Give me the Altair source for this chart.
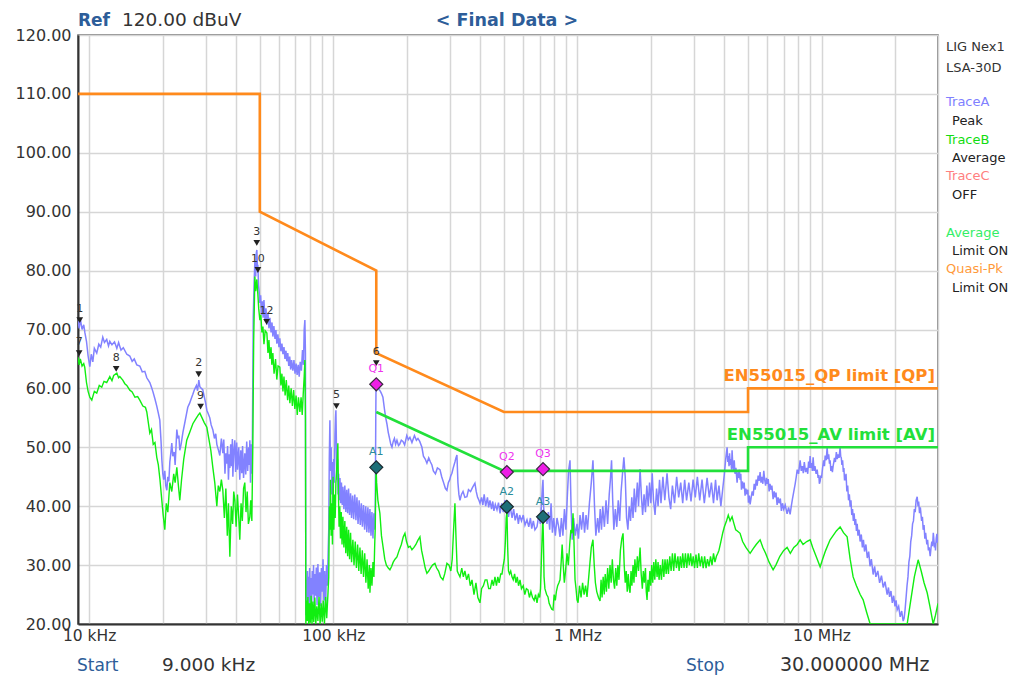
import altair as alt
import pandas as pd

# ---------------- data (frequency in kHz, level in dBuV) ----------------
peak_trace = [
[9.0,71.5],[9.1,70.2],[9.2,71.8],[9.35,70.0],[9.5,70.8],[9.6,69.5],[9.75,68.0],[9.9,65.5],[10.06,63.7],[10.2,65.8],
[10.35,64.5],[10.5,66.8],[10.74,66.0],[10.95,67.5],[11.15,67.0],[11.37,68.7],[11.55,67.8],[11.8,68.3],[12.0,67.2],[12.15,68.0],
[12.4,67.4],[12.7,67.9],[12.98,66.8],[13.2,67.8],[13.5,66.5],[13.8,66.9],[14.26,65.8],[14.67,65.5],[15.0,64.6],[15.3,65.0],
[15.67,64.0],[16.12,63.8],[16.5,62.8],[16.9,62.9],[17.22,61.8],[17.72,61.0],[18.0,60.2],[18.23,59.5],[18.6,58.2],[18.92,57.0],
[19.2,55.8],[19.47,54.6],[19.7,51.0],[19.84,48.0],[20.03,45.5],[20.2,44.5],[20.41,46.0],[20.6,43.5],[20.8,42.7],[21.0,45.0],
[21.2,44.2],[21.4,47.5],[21.6,49.0],[21.8,50.7],[22.0,48.5],[22.3,49.2],[22.5,47.0],[22.86,53.0],[23.1,51.5],[23.3,52.0],
[23.51,49.5],[23.8,50.5],[24.2,52.5],[24.6,54.0],[25.0,55.5],[25.35,56.8],[25.8,57.5],[26.2,58.3],[26.59,59.0],[27.0,59.8],
[27.5,60.5],[27.8,59.6],[28.13,61.4],[28.4,60.3],[28.8,60.0],[29.2,59.8],[29.5,58.9],[30.0,57.5],[30.34,56.3],[30.8,55.6],
[31.2,55.0],[31.6,53.8],[32.1,53.0],[32.6,51.5],[33.0,52.3],[33.34,50.5],[33.8,49.6],[34.3,48.6],[34.8,51.5],[35.28,49.0],
[35.6,51.3],[36.0,45.5],[36.3,49.0],[36.64,47.2],[36.9,50.2],[37.2,44.5],[37.5,48.8],[37.7,46.5],[38.0,50.5],[38.3,46.8],
[38.6,51.4],[38.78,45.0],[39.1,49.2],[39.5,51.2],[39.8,45.8],[40.2,50.8],[40.5,46.2],[41.0,50.0],[41.4,44.5],[41.8,49.5],
[42.2,45.6],[42.5,50.2],[42.9,44.8],[43.4,49.0],[43.8,45.4],[44.2,51.0],[44.6,46.0],[45.0,50.0],[45.3,47.0],[45.52,51.2],
[45.8,44.0],[46.1,50.5],[46.39,45.5],[46.6,50.0],[47.0,72.0],[47.4,78.0],[47.72,81.5],[48.1,79.0],[48.4,83.0],[48.63,83.5],
[48.9,80.5],[49.09,81.0],[49.4,77.5],[49.7,76.5],[50.03,74.5],[50.4,75.8],[50.8,72.5],[51.2,74.8],[51.6,72.0],[52.0,75.0],
[52.5,71.5],[53.0,73.6],[53.45,70.8],[54.0,72.8],[54.5,70.2],[55.0,72.0],[55.6,69.5],[56.1,71.2],[56.55,68.8],[57.1,70.6],
[57.7,68.4],[58.2,69.9],[58.72,67.6],[59.3,69.2],[59.9,67.0],[60.4,68.5],[61.0,66.3],[61.6,67.6],[62.2,65.8],[62.8,67.0],
[63.4,65.0],[64.0,66.4],[64.5,64.6],[65.1,66.0],[65.7,63.8],[66.3,65.4],[66.9,63.2],[67.5,64.8],[68.3,63.0],[69.0,64.8],
[69.7,62.5],[70.4,64.2],[71.1,62.3],[71.8,64.0],[72.5,62.0],[73.2,64.5],[74.0,63.0],[74.8,66.5],[75.5,64.0],[76.0,70.0],
[76.5,71.6],[76.9,66.0],[77.2,21.5],[77.6,27.5],[78.0,23.0],[78.4,29.0],[78.8,24.5],[79.2,28.0],[79.6,22.5],[80.0,29.5],
[80.5,24.0],[81.0,27.8],[81.5,22.8],[82.0,29.0],[82.5,25.0],[83.0,30.0],[83.5,23.5],[84.0,28.5],[84.6,24.8],[85.2,29.6],
[85.8,23.2],[86.5,30.2],[87.2,24.6],[88.0,28.8],[88.7,23.0],[89.4,29.5],[90.1,25.5],[90.8,31.0],[91.5,24.0],[92.2,29.0],
[93.0,22.5],[93.8,30.0],[94.5,26.5],[95.2,31.5],[95.8,36.0],[96.3,48.0],[96.85,54.6],[97.4,46.0],[98.0,50.0],[98.6,42.0],
[99.2,47.5],[99.8,40.5],[100.4,48.0],[101.0,44.0],[101.6,52.0],[102.1,55.0],[102.5,56.3],[103.0,50.5],[103.5,44.5],[104.0,48.0],
[104.6,42.0],[105.2,45.5],[105.8,41.0],[106.5,44.8],[107.2,40.5],[108.0,44.0],[108.8,40.2],[109.5,43.3],[110.5,39.5],[111.5,43.5],
[112.5,39.0],[113.5,42.8],[114.5,38.8],[115.5,43.0],[116.6,38.5],[117.7,42.2],[118.8,38.0],[120.0,41.8],[121.2,37.8],[122.5,42.0],
[123.8,37.6],[125.0,41.5],[126.3,37.0],[127.6,41.0],[129.0,36.8],[130.3,40.5],[131.6,36.5],[133.0,40.2],[134.4,36.0],[135.8,40.0],
[137.2,35.6],[138.6,39.8],[140.0,35.5],[141.3,39.5],[142.7,35.0],[144.0,39.0],[145.4,34.5],[146.7,38.8],[147.8,36.0],[148.6,40.0],
[149.3,55.0],[149.7,61.4],[150.3,60.5],[152.3,61.0],[154.0,59.8],[156.0,59.5],[158.0,59.0],[159.7,58.5],[162.0,56.5],[164.0,55.0],
[165.8,54.0],[168.0,52.5],[170.0,51.5],[172.0,50.5],[173.9,50.0],[176.0,51.0],[178.0,51.5],[180.0,50.5],[182.3,51.2],[185.0,50.3],
[187.0,50.5],[190.0,51.2],[192.9,51.0],[196.0,50.4],[200.0,52.0],[203.0,51.3],[206.0,51.7],[210.0,50.8],[215.0,52.0],[219.0,51.2],
[222.2,51.5],[226.0,51.0],[230.7,50.0],[234.0,48.5],[238.0,48.0],[241.8,47.3],[246.0,48.2],[250.0,47.5],[253.5,47.0],[257.0,46.0],
[262.0,45.5],[267.0,46.5],[273.5,46.2],[278.0,45.0],[283.0,44.0],[288.0,43.0],[292.1,42.7],[296.0,44.0],[300.0,44.5],[303.0,45.2],
[306.2,45.6],[310.0,46.5],[315.0,47.5],[318.0,48.2],[321.0,48.7],[324.0,44.0],[327.0,42.0],[330.3,41.0],[335.0,42.0],[340.0,42.5],
[346.0,41.5],[352.7,41.6],[358.0,42.8],[365.0,42.5],[372.0,43.2],[380.4,43.9],[385.0,42.5],[390.0,41.5],[395.0,41.0],[398.9,40.5],
[405.0,41.5],[410.0,40.2],[415.0,42.0],[421.0,40.0],[428.0,41.5],[433.0,39.8],[438.3,41.0],[445.0,39.5],[450.0,40.8],[455.0,39.2],
[461.0,40.3],[468.3,39.4],[475.0,40.6],[482.0,38.8],[490.0,40.5],[497.0,39.0],[505.0,41.0],[514.6,39.9],[522.0,38.2],[530.0,40.0],
[540.0,38.0],[548.0,39.5],[556.0,37.6],[565.6,38.8],[573.0,37.0],[580.0,38.5],[590.0,37.5],[600.0,38.5],[610.0,36.8],[621.5,37.7],
[632.0,36.5],[642.0,38.0],[650.0,36.2],[660.0,37.5],[670.0,36.0],[683.1,36.5],[695.0,38.5],[705.0,37.0],[712.0,40.0],[718.0,43.0],
[722.8,44.5],[727.0,40.0],[735.0,37.5],[743.0,38.5],[750.6,37.0],[760.0,39.0],[770.0,36.0],[780.0,40.5],[790.0,35.5],[800.0,38.0],
[812.0,35.0],[825.0,38.0],[838.0,36.5],[848.6,34.8],[860.0,38.0],[872.0,35.0],[885.0,39.5],[897.0,36.0],[910.0,42.0],[920.0,46.0],
[932.5,47.8],[942.0,40.0],[952.0,34.3],[965.0,38.0],[980.0,35.0],[996.3,37.0],[1010,34.5],[1025,38.5],[1040,36.0],[1055,39.0],
[1070,35.5],[1085,38.5],[1100,36.0],[1120,40.5],[1140,44.0],[1158,47.8],[1175,40.0],[1190,35.0],[1210,38.0],[1225,35.5],
[1240,39.5],[1255,36.0],[1270,40.0],[1290,36.5],[1310,41.0],[1330,37.0],[1350,42.0],[1365,44.5],[1380,47.8],[1395,41.0],
[1410,36.0],[1430,39.5],[1450,36.5],[1470,41.0],[1490,37.5],[1510,42.5],[1530,45.5],[1550,48.3],[1570,45.0],[1590,38.0],
[1610,36.0],[1630,40.0],[1650,37.5],[1670,41.5],[1690,38.0],[1710,43.0],[1730,39.0],[1760,44.0],[1780,40.0],[1806,46.3],
[1830,41.5],[1850,38.5],[1875,42.0],[1900,39.0],[1925,43.5],[1950,40.0],[1975,44.0],[2000,40.5],[2025,45.6],[2050,41.0],
[2080,38.5],[2110,43.0],[2140,40.0],[2170,44.5],[2200,40.5],[2240,45.0],[2280,41.0],[2329,45.6],[2370,41.5],[2410,39.5],
[2450,43.5],[2500,40.5],[2550,45.0],[2600,41.5],[2650,44.0],[2700,40.5],[2750,44.5],[2800,41.0],[2860,44.0],[2920,40.8],
[2978,44.5],[3040,41.5],[3100,45.0],[3170,41.0],[3240,44.5],[3310,40.5],[3398,44.8],[3470,41.5],[3540,44.0],[3610,40.5],
[3680,44.5],[3735,41.0],[3800,43.5],[3870,40.0],[3940,43.0],[4000,45.5],[4050,48.0],[4104,50.0],[4130,47.5],[4150,48.5],
[4180,46.8],[4200,49.0],[4230,47.0],[4250,48.0],[4280,46.2],[4301,49.5],[4330,47.0],[4360,46.0],[4390,47.8],[4420,45.5],
[4460,46.5],[4510,44.0],[4550,45.8],[4580,44.8],[4610,46.2],[4638,44.5],[4670,45.5],[4700,42.8],[4740,44.2],[4780,43.0],
[4820,44.0],[4862,41.8],[4900,43.0],[4950,42.0],[4990,42.8],[5020,40.6],[5060,41.8],[5099,40.3],[5150,41.5],[5200,42.5],
[5250,41.8],[5300,43.8],[5350,42.8],[5400,44.5],[5450,43.5],[5500,45.2],[5550,44.3],[5603,45.8],[5650,44.0],[5700,45.0],
[5750,43.8],[5800,46.0],[5850,44.5],[5900,43.5],[5950,44.8],[6000,43.8],[6050,44.6],[6100,42.5],[6150,43.8],[6200,42.8],
[6260,43.5],[6334,41.2],[6400,42.5],[6450,41.5],[6510,42.3],[6577,40.2],[6640,41.5],[6700,40.5],[6780,41.3],[6850,39.2],
[6920,40.5],[7000,39.5],[7100,40.2],[7228,38.7],[7330,39.8],[7435,38.6],[7520,40.0],[7600,41.2],[7700,42.5],[7800,43.8],
[7880,45.0],[7950,46.2],[8050,45.5],[8172,47.8],[8260,46.0],[8350,46.8],[8420,45.6],[8500,47.5],[8600,45.8],[8700,46.5],
[8780,45.5],[8850,47.6],[8920,46.5],[8981,48.5],[9040,46.5],[9100,47.3],[9170,46.0],[9239,48.3],[9320,46.0],[9400,46.8],
[9500,45.5],[9600,46.2],[9680,44.8],[9750,45.3],[9800,43.8],[9869,44.2],[9930,45.2],[10000,44.8],[10100,46.5],[10200,47.8],
[10280,46.8],[10350,48.6],[10450,47.8],[10544,50.0],[10620,48.0],[10700,48.8],[10780,47.2],[10844,47.8],[10920,46.0],[11000,46.8],
[11080,45.8],[11155,46.8],[11230,47.5],[11300,48.2],[11400,47.5],[11500,49.2],[11600,48.0],[11700,48.8],[11800,48.2],[11918,50.0],
[11980,48.5],[12050,48.2],[12120,47.0],[12200,47.8],[12280,45.8],[12350,46.5],[12420,44.5],[12494,44.5],[12600,45.5],[12700,42.5],
[12800,43.5],[12900,41.0],[13000,42.0],[13098,39.9],[13200,41.0],[13300,38.5],[13400,39.5],[13500,37.5],[13600,38.8],[13700,36.8],
[13800,37.8],[13900,35.8],[14000,37.0],[14100,35.0],[14250,36.0],[14394,34.0],[14550,35.2],[14700,33.0],[14850,34.3],[15000,32.3],
[15200,33.5],[15400,31.2],[15600,32.3],[15800,29.8],[16000,31.0],[16274,28.4],[16500,29.8],[16700,28.0],[17000,29.0],[17300,27.0],
[17600,28.2],[17900,26.2],[18200,27.2],[18570,25.0],[18800,26.2],[19000,24.6],[19250,25.6],[19500,23.6],[19750,24.8],[20000,23.0],
[20200,24.0],[20410,22.4],[20700,23.0],[21000,21.2],[21300,22.2],[21600,20.5],[21800,21.0],[22000,22.5],[22200,24.5],[22400,26.5],
[22600,28.0],[22800,30.5],[23000,31.5],[23200,34.0],[23400,35.0],[23600,37.0],[23800,37.5],[24000,39.5],[24200,39.0],[24400,41.0],
[24650,41.6],[24850,40.0],[25000,40.8],[25200,38.8],[25400,39.8],[25700,37.5],[25900,38.2],[26090,36.0],[26300,36.8],[26500,34.5],
[26700,35.5],[27000,33.5],[27200,34.3],[27400,32.5],[27600,33.0],[27870,31.5],[28100,33.0],[28300,34.0],[28500,33.2],[28700,35.5],
[28900,34.0],[29000,33.0],[29200,33.8],[29300,32.5],[29500,34.5],[29700,35.3],[29850,33.8],[30000,34.3],
]

average_trace = [
[9.0,65.3],[9.1,64.0],[9.2,65.0],[9.35,63.8],[9.5,64.2],[9.59,63.6],[9.75,61.0],[9.9,59.5],[10.06,58.5],[10.25,58.0],
[10.5,59.5],[10.74,59.2],[11.0,60.5],[11.26,60.2],[11.5,61.2],[11.8,61.0],[12.15,62.0],[12.4,61.3],[12.6,62.2],[12.98,62.6],
[13.2,61.8],[13.35,62.0],[13.73,61.4],[14.0,60.8],[14.26,60.5],[14.67,59.7],[15.0,59.4],[15.4,58.5],[15.8,58.6],[16.12,58.0],
[16.59,57.0],[17.0,56.8],[17.22,56.0],[17.72,52.4],[18.0,53.0],[18.3,50.5],[18.6,50.8],[18.92,48.3],[19.2,47.0],[19.5,44.5],
[19.84,41.0],[20.1,38.5],[20.41,36.0],[20.7,40.5],[21.0,39.0],[21.4,44.0],[21.8,42.5],[22.2,45.5],[22.5,44.0],[22.86,46.6],
[23.2,43.5],[23.51,41.0],[23.9,44.5],[24.4,48.0],[25.1,51.2],[25.8,52.5],[26.59,54.0],[27.3,54.8],[28.0,55.5],[28.4,55.8],
[29.0,55.0],[29.6,54.2],[30.34,53.4],[30.9,51.5],[31.5,49.5],[32.1,46.6],[32.7,44.0],[33.34,40.0],[33.8,43.5],[34.3,42.5],
[34.8,44.5],[35.28,42.7],[35.8,38.0],[36.3,43.0],[36.8,35.0],[37.2,40.5],[37.7,31.4],[38.2,40.0],[38.7,37.0],[39.1,42.5],
[39.52,41.0],[40.0,36.5],[40.5,42.0],[41.0,38.0],[41.4,34.3],[41.9,40.5],[42.4,37.5],[42.9,43.0],[43.4,44.0],[43.9,39.0],
[44.4,42.5],[44.9,37.0],[45.52,38.2],[45.9,41.0],[46.39,37.5],[46.8,50.0],[47.2,68.0],[47.72,79.0],[48.1,76.5],[48.63,78.5],
[49.09,76.0],[49.5,73.5],[50.03,71.6],[50.5,72.5],[51.0,69.5],[51.5,70.5],[52.0,67.5],[52.6,69.8],[53.45,69.4],[54.0,66.0],
[54.5,68.2],[55.0,65.0],[55.6,67.0],[56.0,64.0],[56.55,66.0],[57.2,62.5],[58.0,65.0],[58.7,61.5],[59.4,63.8],[60.4,63.6],
[61.0,60.5],[61.6,62.5],[62.2,59.5],[62.8,62.0],[63.5,58.8],[64.2,61.4],[65.0,58.0],[65.7,60.5],[66.4,57.5],[67.2,60.0],
[68.0,57.0],[68.8,59.7],[69.6,56.5],[70.4,58.8],[71.2,55.5],[72.0,58.5],[72.98,56.0],[73.8,58.5],[74.6,55.5],[75.3,59.0],
[76.0,62.0],[76.5,64.8],[76.9,55.0],[77.2,20.0],[77.7,24.0],[78.2,20.5],[78.7,24.6],[79.3,20.0],[79.9,23.5],[80.5,20.2],
[81.1,24.8],[81.8,20.0],[82.5,23.8],[83.2,20.3],[84.0,24.5],[84.8,20.0],[85.6,23.0],[86.5,20.5],[87.4,24.6],[88.3,20.0],
[89.2,23.5],[90.1,20.4],[91.0,24.0],[92.0,20.0],[93.0,24.6],[94.0,21.0],[95.0,24.8],[95.8,28.0],[96.4,40.0],[96.85,36.0],
[97.4,44.5],[98.0,35.0],[98.6,40.5],[99.2,33.5],[99.8,45.0],[100.5,36.0],[101.2,42.0],[101.8,38.0],[102.5,44.0],[103.2,46.0],
[103.8,48.5],[104.4,50.7],[105.0,42.0],[105.6,36.5],[106.3,40.0],[107.0,34.5],[107.8,39.0],[108.6,33.5],[109.5,38.2],[110.5,33.0],
[111.5,37.5],[112.5,32.0],[113.5,36.5],[114.5,31.5],[115.5,36.0],[116.6,31.0],[117.7,35.5],[118.8,30.5],[120.3,34.3],[121.6,30.0],
[123.0,34.0],[124.4,29.5],[125.8,33.5],[127.2,29.0],[128.6,33.0],[130.0,28.5],[131.5,32.5],[133.0,28.0],[134.5,32.0],[136.0,27.0],
[137.5,31.0],[139.0,26.0],[140.5,30.0],[141.3,25.3],[142.7,29.5],[144.0,26.5],[145.4,30.5],[146.7,28.0],[147.8,33.5],[148.6,36.5],
[149.3,44.0],[149.7,46.6],[150.5,44.0],[152.3,41.0],[155.2,38.8],[157.5,35.0],[160.0,33.0],[162.5,31.0],[165.0,30.0],[168.0,29.5],
[170.6,29.2],[173.5,29.8],[176.0,30.5],[179.0,31.0],[182.3,31.4],[186.0,32.5],[190.0,33.5],[193.5,34.8],[196.6,35.4],[199.5,34.0],
[203.0,33.0],[206.5,33.2],[210.0,32.6],[214.0,33.0],[218.0,33.5],[222.0,34.2],[226.4,34.8],[230.0,32.5],[234.0,31.0],[238.0,29.5],
[241.8,28.6],[246.0,29.0],[250.0,29.5],[255.0,30.0],[260.8,30.3],[265.0,29.5],[270.0,29.0],[275.0,28.0],[281.3,27.5],[286.0,28.5],
[292.1,30.3],[298.0,30.0],[303.0,29.0],[307.0,31.0],[311.0,36.0],[315.0,40.5],[318.0,35.0],[322.0,29.0],[326.0,28.5],[330.3,28.0],
[336.0,29.5],[341.0,28.0],[346.0,29.0],[352.0,27.5],[358.0,28.5],[364.0,26.5],[370.0,27.5],[377.0,25.0],[384.0,27.0],[391.0,24.5],
[398.9,23.6],[405.0,26.0],[412.0,26.5],[419.0,27.5],[426.1,27.5],[433.0,26.0],[440.0,26.0],[447.0,27.5],[453.0,26.5],[459.5,28.0],
[466.0,26.5],[472.0,28.0],[478.0,27.0],[485.0,28.5],[491.0,28.5],[497.0,30.0],[502.0,31.0],[507.0,34.0],[511.0,38.0],[514.6,39.0],
[518.0,33.0],[522.0,29.0],[527.0,28.5],[533.0,29.0],[539.5,28.0],[546.0,27.5],[553.0,28.5],[560.0,27.0],[567.0,28.0],[574.0,26.5],
[581.9,27.5],[590.0,26.0],[600.0,26.5],[609.0,25.0],[618.0,26.0],[627.4,25.8],[636.0,24.5],[645.0,25.5],[655.0,24.5],[665.0,24.0],
[674.0,25.0],[683.1,23.6],[692.0,25.0],[700.0,24.5],[706.0,26.0],[711.0,30.0],[716.0,34.0],[720.0,37.0],[722.8,37.7],[726.0,34.0],
[730.0,28.0],[736.0,26.0],[742.0,25.5],[748.0,25.0],[757.7,24.6],[766.0,23.5],[775.0,23.0],[785.0,22.5],[794.3,22.4],[803.0,25.0],
[812.0,24.0],[820.0,25.5],[830.0,26.5],[840.0,27.0],[848.6,27.5],[858.0,30.5],[866.0,33.5],[875.0,30.0],[884.0,27.0],[894.0,29.0],
[906.5,32.0],[918.0,30.0],[930.0,33.5],[940.0,36.0],[950.3,35.4],[959.4,38.8],[968.0,34.0],[978.0,27.5],[987.0,26.0],[996.3,24.1],
[1006,23.6],[1020,26.5],[1035,24.5],[1050,27.0],[1065,25.0],[1080,26.5],[1095,24.6],[1110,27.5],[1125,30.3],[1140,33.0],
[1158,34.3],[1172,30.0],[1185,27.0],[1200,25.5],[1220,24.5],[1238,23.9],[1250,27.5],[1262,24.5],[1275,28.0],[1288,25.0],
[1300,28.5],[1315,25.5],[1330,29.5],[1345,26.0],[1360,30.0],[1375,27.0],[1390,31.0],[1405,27.5],[1420,26.0],[1435,29.5],
[1450,26.5],[1465,30.0],[1480,27.5],[1500,32.5],[1520,34.5],[1538,35.4],[1555,30.0],[1570,27.0],[1585,29.0],[1600,25.5],
[1615,28.5],[1630,26.0],[1643,25.3],[1658,29.0],[1672,26.5],[1690,30.0],[1705,27.0],[1720,31.0],[1740,28.0],[1760,31.5],
[1780,29.0],[1806,33.0],[1825,28.5],[1845,26.0],[1862,29.0],[1880,27.0],[1900,29.5],[1915,25.5],[1929,24.1],[1945,27.5],
[1962,25.5],[1980,29.0],[1998,26.5],[2015,30.0],[2035,27.0],[2055,30.5],[2075,27.5],[2095,31.0],[2120,28.0],[2140,30.5],
[2160,27.5],[2185,30.0],[2210,27.5],[2235,31.0],[2260,28.0],[2285,31.0],[2310,28.5],[2335,31.0],[2360,28.5],[2390,31.5],
[2420,29.0],[2450,32.0],[2480,29.0],[2510,32.0],[2545,29.5],[2580,31.5],[2610,29.0],[2640,31.5],[2670,29.5],[2700,32.0],
[2735,29.5],[2770,32.0],[2805,29.5],[2840,32.0],[2875,30.0],[2910,32.0],[2945,29.8],[2980,31.5],[3020,29.5],[3060,31.8],
[3100,29.5],[3140,32.0],[3185,29.8],[3230,31.5],[3275,29.5],[3320,31.5],[3365,29.5],[3410,31.0],[3460,29.8],[3510,31.5],
[3560,30.0],[3610,32.0],[3660,30.5],[3710,31.5],[3760,32.0],[3800,32.5],[3870,34.0],[3940,35.5],[4000,36.5],[4080,37.5],
[4150,38.5],[4220,37.5],[4301,38.2],[4380,37.0],[4450,36.0],[4520,35.8],[4638,35.4],[4750,34.0],[4900,33.0],[5000,32.5],
[5099,32.0],[5250,32.8],[5400,33.5],[5603,34.3],[5750,33.0],[5900,32.0],[6100,30.5],[6334,29.2],[6500,30.0],[6750,31.5],
[7000,32.5],[7228,33.0],[7450,32.0],[7700,33.0],[7950,33.5],[8172,34.3],[8400,33.5],[8700,34.0],[8981,34.3],[9200,33.0],
[9500,31.5],[9869,29.7],[10100,31.0],[10400,32.5],[10844,34.3],[11150,35.0],[11500,35.8],[11918,36.5],[12300,35.5],[12732,34.8],
[13100,31.0],[13473,28.0],[13900,26.5],[14400,25.0],[14808,24.1],[15300,22.0],[15820,20.0],[22430,20.0],[23200,24.0],[24000,28.0],
[24880,30.9],[25600,29.0],[26300,27.0],[27090,25.3],[27800,23.0],[28670,20.0],[29300,21.5],[30000,23.5],
]

qp_limit_khz = [9, 50, 50, 150, 150, 500, 5000, 5000, 30000]
qp_limit_db = [110, 110, 90, 80, 66, 56, 56, 60, 60]
av_limit_khz = [150, 500, 5000, 5000, 30000]
av_limit_db = [56, 46, 46, 50, 50]

marker_labels = ["1", "7", "8", "2", "9", "3", "10", "12", "5", "6"]
marker_khz = [9.15, 9.1, 12.9, 28.1, 28.6, 48.6, 49.1, 53.3, 103.0, 150.0]
marker_db = [71.6, 66.0, 63.3, 62.4, 56.9, 84.7, 80.1, 71.3, 57.0, 64.3]

qp_labels = ["Q1", "Q2", "Q3"]
qp_khz = [150.0, 514.0, 723.0]
qp_db = [60.7, 45.8, 46.3]
av_labels = ["A1", "A2", "A3"]
av_khz = [150.0, 514.0, 723.0]
av_db = [46.6, 39.9, 38.2]

y_ticks = [20, 30, 40, 50, 60, 70, 80, 90, 100, 110, 120]
x_decade_labels = {10000: "10 kHz", 100000: "100 kHz", 1000000: "1 MHz", 10000000: "10 MHz"}

FONT = "DejaVu Sans"
BLUE_TXT = "#2d5d99"

# ---------------- frames ----------------
def trace_df(pairs):
    return pd.DataFrame({"f": [p[0] * 1000 for p in pairs], "db": [p[1] for p in pairs],
                         "i": list(range(len(pairs)))})

peak_df = trace_df(peak_trace)
avg_df = trace_df(average_trace)
qp_df = pd.DataFrame({"f": [v * 1000 for v in qp_limit_khz], "db": qp_limit_db, "i": range(len(qp_limit_khz))})
avl_df = pd.DataFrame({"f": [v * 1000 for v in av_limit_khz], "db": av_limit_db, "i": range(len(av_limit_khz))})
mk_df = pd.DataFrame({"f": [v * 1000 for v in marker_khz], "db": marker_db, "t": marker_labels})
q_df = pd.DataFrame({"f": [v * 1000 for v in qp_khz], "db": qp_db, "t": qp_labels})
a_df = pd.DataFrame({"f": [v * 1000 for v in av_khz], "db": av_db, "t": av_labels})

grid_vals = [k * 10 ** e for e in range(4, 8) for k in range(1, 10) if 9000 <= k * 10 ** e <= 30000000]
label_expr = " : ".join(f"datum.value == {v} ? '{t}'" for v, t in x_decade_labels.items()) + " : ''"

x_enc = alt.X("f:Q", scale=alt.Scale(type="log", domain=[9000, 30000000], nice=False),
              axis=alt.Axis(values=grid_vals, labelExpr=label_expr, labelOverlap=False, title=None,
                            labelFontSize=15.5, labelPadding=4, labelFont=FONT))
y_enc = alt.Y("db:Q", scale=alt.Scale(domain=[20, 120], nice=False),
              axis=alt.Axis(values=y_ticks, format=".2f", title=None, labelPadding=7,
                            labelFontSize=16, labelFont=FONT))

def line_layer(df, color, width):
    return alt.Chart(df).mark_line(color=color, strokeWidth=width, clip=True).encode(
        x=x_enc, y=y_enc, order="i:Q")

peak_line = line_layer(peak_df, "#8282ff", 1.5)
avg_line = line_layer(avg_df, "#11ee11", 1.4)
qp_line = line_layer(qp_df, "#ff8a1c", 2.6)
av_line = line_layer(avl_df, "#22e03a", 2.6)

qp_text = alt.Chart(pd.DataFrame({"f": [30000000], "db": [60], "t": ["EN55015_QP limit [QP]"]})).mark_text(
    align="right", baseline="bottom", dx=-3, dy=-4, font=FONT, fontWeight="bold", fontSize=16.5,
    color="#ff8a1c").encode(x=x_enc, y=y_enc, text="t:N")
av_text = alt.Chart(pd.DataFrame({"f": [30000000], "db": [50], "t": ["EN55015_AV limit [AV]"]})).mark_text(
    align="right", baseline="bottom", dx=-3, dy=-4, font=FONT, fontWeight="bold", fontSize=16.5,
    color="#22e03a").encode(x=x_enc, y=y_enc, text="t:N")

tri = alt.Chart(mk_df).mark_point(shape="triangle-down", filled=True, color="#222222", size=45, opacity=1).encode(
    x=x_enc, y=y_enc)
tri_txt = alt.Chart(mk_df).mark_text(dy=-11, fontSize=11, font=FONT, color="#333333").encode(
    x=x_enc, y=y_enc, text="t:N")

q_pts = alt.Chart(q_df).mark_point(shape="diamond", filled=True, fill="#ee1ee6", stroke="#3a2a40",
                                   strokeWidth=1.2, size=170, opacity=1).encode(x=x_enc, y=y_enc)
q_txt = alt.Chart(q_df).mark_text(dy=-15, fontSize=11, font=FONT, color="#ee33ee").encode(
    x=x_enc, y=y_enc, text="t:N")
a_pts = alt.Chart(a_df).mark_point(shape="diamond", filled=True, fill="#1d6f78", stroke="#1a2a30",
                                   strokeWidth=1.2, size=170, opacity=1).encode(x=x_enc, y=y_enc)
a_txt = alt.Chart(a_df).mark_text(dy=-15, fontSize=11, font=FONT, color="#2a8c9a").encode(
    x=x_enc, y=y_enc, text="t:N")

# ---------------- annotation texts (pixel positions relative to the plot area) ----------------
ann_text = ["Ref", "120.00 dBuV", "< Final Data >", "Start", "9.000 kHz", "Stop", "30.000000 MHz",
            "LIG Nex1", "LSA-30D", "TraceA", "Peak", "TraceB", "Average", "TraceC", "OFF",
            "Average", "Limit ON", "Quasi-Pk", "Limit ON"]
ann_color = [BLUE_TXT, "#333333", BLUE_TXT, BLUE_TXT, "#333333", BLUE_TXT, "#333333",
             "#333333", "#333333", "#8080ff", "#222222", "#11dd11", "#222222", "#ff8080", "#222222",
             "#33ee66", "#222222", "#ff9a3a", "#222222"]
ann_size = [17, 18.5, 17.5, 17, 18.5, 17, 19] + [13] * 12
ann_weight = ["bold", "normal", "bold", "normal", "normal", "normal", "normal"] + ["normal"] * 12
ann_align = ["left", "left", "center", "left", "left", "left", "left"] + ["left"] * 12
ann_base = ["alphabetic"] * 7 + ["middle"] * 12
ann_x = [0, 44, 429, -1, 84, 608, 702, 868, 868, 868, 874, 868, 874, 868, 874, 868, 874, 868, 874]
ann_y = [-9, -9, -9, 636, 636, 636, 636, 12, 33, 67, 86, 105, 123, 141, 160, 198, 216, 234, 253]

ann_layers = []
for t, c, s, w, a, b, xx, yy in zip(ann_text, ann_color, ann_size, ann_weight, ann_align, ann_base, ann_x, ann_y):
    ann_layers.append(
        alt.Chart(pd.DataFrame({"t": [t]})).mark_text(
            align=a, baseline=b, font=FONT, fontSize=s, fontWeight=w, color=c
        ).encode(x=alt.value(xx), y=alt.value(yy), text="t:N")
    )

chart = alt.layer(
    peak_line, avg_line, qp_line, av_line, qp_text, av_text,
    tri, tri_txt, q_pts, q_txt, a_pts, a_txt, *ann_layers
).properties(
    width=860, height=589,
    padding={"left": 70, "top": 27, "right": 76, "bottom": 52},
    autosize=alt.AutoSizeParams(type="none"),
    background="white",
).configure_view(
    stroke="#666666", strokeWidth=1.5
).configure_axis(
    grid=True, gridColor="#d6d6d6", gridWidth=1.5, domain=True, domainColor="#333333", domainWidth=2,
    ticks=False, labelColor="#333333"
)

chart.save("out.html", embed_options={"renderer": "svg", "actions": False})
